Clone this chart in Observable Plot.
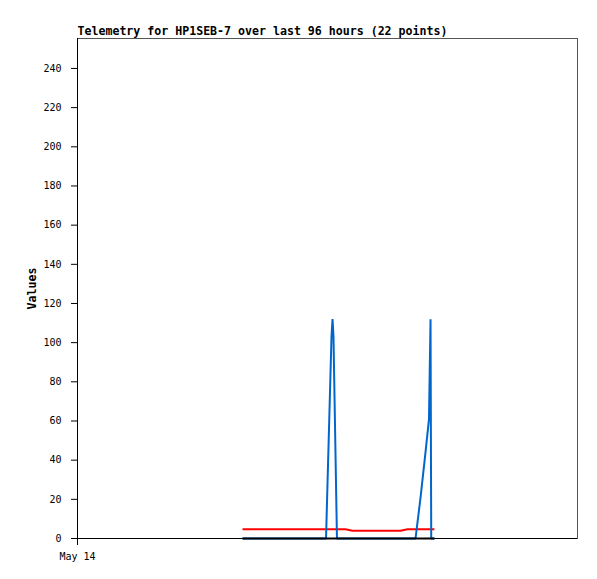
<!DOCTYPE html>
<html>
<head>
<meta charset="utf-8">
<script src="https://cdn.jsdelivr.net/npm/d3@7"></script>
<script src="https://cdn.jsdelivr.net/npm/@observablehq/plot@0.6"></script>
<style>
  html, body { margin: 0; padding: 0; background: #fff; }
</style>
</head>
<body>
<div id="chart"></div>
<script>
const title = "Telemetry for HP1SEB-7 over last 96 hours (22 points)";
const yLabel = "Values";
const xStart = "2024-05-14T00:00Z";
const xEnd = "2024-05-18T00:00Z";
const xTicks = ["2024-05-14T00:00Z"];
const xTickLabels = ["May 14"];
const yTicks = [0, 20, 40, 60, 80, 100, 120, 140, 160, 180, 200, 220, 240];
const yMax = 255.3;

const times = [
  "2024-05-15T07:41Z", "2024-05-15T13:04Z", "2024-05-15T18:49Z", "2024-05-15T23:43Z",
  "2024-05-16T00:46Z", "2024-05-16T00:58Z", "2024-05-16T01:09Z", "2024-05-16T01:49Z",
  "2024-05-16T03:28Z", "2024-05-16T04:48Z", "2024-05-16T08:16Z", "2024-05-16T12:06Z",
  "2024-05-16T14:01Z", "2024-05-16T15:22Z", "2024-05-16T16:54Z", "2024-05-16T17:52Z",
  "2024-05-16T18:49Z", "2024-05-16T19:29Z", "2024-05-16T19:47Z", "2024-05-16T19:55Z",
  "2024-05-16T20:16Z", "2024-05-16T20:32Z"
];
const channel3Values = [0, 0, 0, 0, 103, 112, 103, 0, 0, 0, 0, 0, 0, 0, 0, 21, 44, 61, 112, 0, 0, 0];
const channel2Values = [4.7, 4.7, 4.7, 4.7, 4.7, 4.7, 4.7, 4.7, 4.7, 4.0, 4.0, 4.0, 4.0, 4.7, 4.7, 4.7, 4.7, 4.7, 4.7, 4.7, 4.7, 4.7];
const channel1Values = [0, 0, 0, 0, 0, 0, 0, 0, 0, 0, 0, 0, 0, 0, 0, 0, 0, 0, 0, 0, 0, 0];

// drawing order: red, then blue, then black on top
const seriesNames = ["Channel 2", "Channel 3", "Channel 1"];
const seriesColors = ["#ff0000", "#0066cc", "#000000"];
const seriesValues = [channel2Values, channel3Values, channel1Values];

const rows = [];
seriesNames.forEach((name, s) => {
  times.forEach((t, i) => rows.push({series: name, time: new Date(t), value: seriesValues[s][i]}));
});

const labelMap = new Map(xTicks.map((t, i) => [+new Date(t), xTickLabels[i]]));
const mono = "'DejaVu Sans Mono', 'Liberation Mono', monospace";

const chart = Plot.plot({
  width: 597,
  height: 579,
  marginLeft: 77,
  marginRight: 20,
  marginTop: 38,
  marginBottom: 41,
  style: {fontFamily: mono, fontSize: "10px", color: "#000", background: "#fff"},
  x: {type: "utc", domain: [new Date(xStart), new Date(xEnd)]},
  y: {domain: [0, yMax]},
  color: {domain: seriesNames, range: seriesColors},
  marks: [
    Plot.frame({stroke: "#555", strokeWidth: 1}),
    Plot.axisY({ticks: yTicks, tickSize: 6, tickPadding: 10, label: null, stroke: "#000"}),
    Plot.axisX({ticks: xTicks.map(t => new Date(t)), tickSize: 7, tickPadding: 7, label: null,
      tickFormat: d => labelMap.get(+d)}),
    Plot.ruleX([new Date(xStart)], {stroke: "#000", strokeWidth: 1}),
    Plot.ruleY([0], {stroke: "#000", strokeWidth: 1}),
    Plot.line(rows, {x: "time", y: "value", z: "series", stroke: "series", strokeWidth: 2,
      strokeLinejoin: "miter", strokeLinecap: "butt"}),
    Plot.text([title], {frameAnchor: "top-left", text: d => d, dy: -4, lineAnchor: "bottom",
      textAnchor: "start", fontWeight: "bold", fontSize: 11.6}),
    Plot.text([yLabel], {frameAnchor: "left", text: d => d, dx: -45, rotate: -90,
      textAnchor: "middle", fontWeight: "bold", fontSize: 11.6})
  ]
});
document.getElementById("chart").appendChild(chart);
</script>
</body>
</html>
